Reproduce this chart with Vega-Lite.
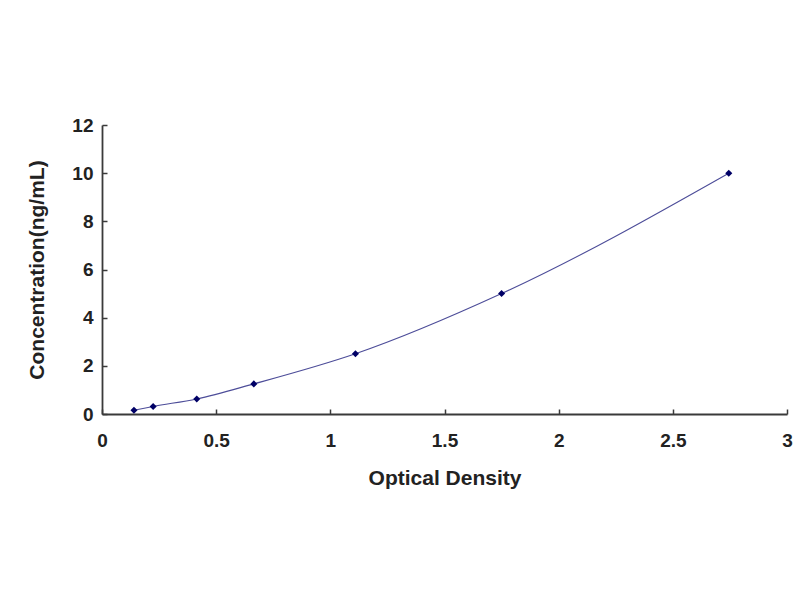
{
  "$schema": "https://vega.github.io/schema/vega-lite/v6.json",
  "width": 685,
  "height": 289,
  "autosize": {"type": "none"},
  "padding": {"left": 102, "top": 125, "right": 13, "bottom": 186},
  "background": "white",
  "config": {
    "view": {"stroke": null},
    "axis": {
      "grid": false,
      "domainColor": "#3a3a3a",
      "domainWidth": 1.8,
      "tickColor": "#3a3a3a",
      "tickWidth": 1.5,
      "tickSize": -5,
      "labelFlush": false,
      "labelFont": "Liberation Sans",
      "labelFontWeight": "bold",
      "labelFontSize": 19,
      "labelColor": "#222222",
      "titleFont": "Liberation Sans",
      "titleFontWeight": "bold",
      "titleFontSize": 21,
      "titleColor": "#222222"
    }
  },
  "data": {
    "values": [
      {"od": 0.14, "conc": 0.156},
      {"od": 0.224, "conc": 0.312},
      {"od": 0.415, "conc": 0.625},
      {"od": 0.665, "conc": 1.25},
      {"od": 1.11, "conc": 2.5},
      {"od": 1.75, "conc": 5},
      {"od": 2.745, "conc": 10}
    ]
  },
  "encoding": {
    "x": {
      "field": "od",
      "type": "quantitative",
      "title": "Optical Density",
      "scale": {"domain": [0, 3], "nice": false},
      "axis": {"values": [0, 0.5, 1, 1.5, 2, 2.5, 3], "format": "~g", "labelPadding": 22, "titlePadding": 17}
    },
    "y": {
      "field": "conc",
      "type": "quantitative",
      "title": "Concentration(ng/mL)",
      "scale": {"domain": [0, 12], "nice": false},
      "axis": {"values": [0, 2, 4, 6, 8, 10, 12], "format": "d", "labelPadding": 14, "titlePadding": 24}
    }
  },
  "layer": [
    {"mark": {"type": "line", "interpolate": "monotone", "color": "#4d4d99", "strokeWidth": 1.1}},
    {"mark": {"type": "point", "shape": "diamond", "filled": true, "size": 50, "color": "#000066", "opacity": 1}}
  ]
}
